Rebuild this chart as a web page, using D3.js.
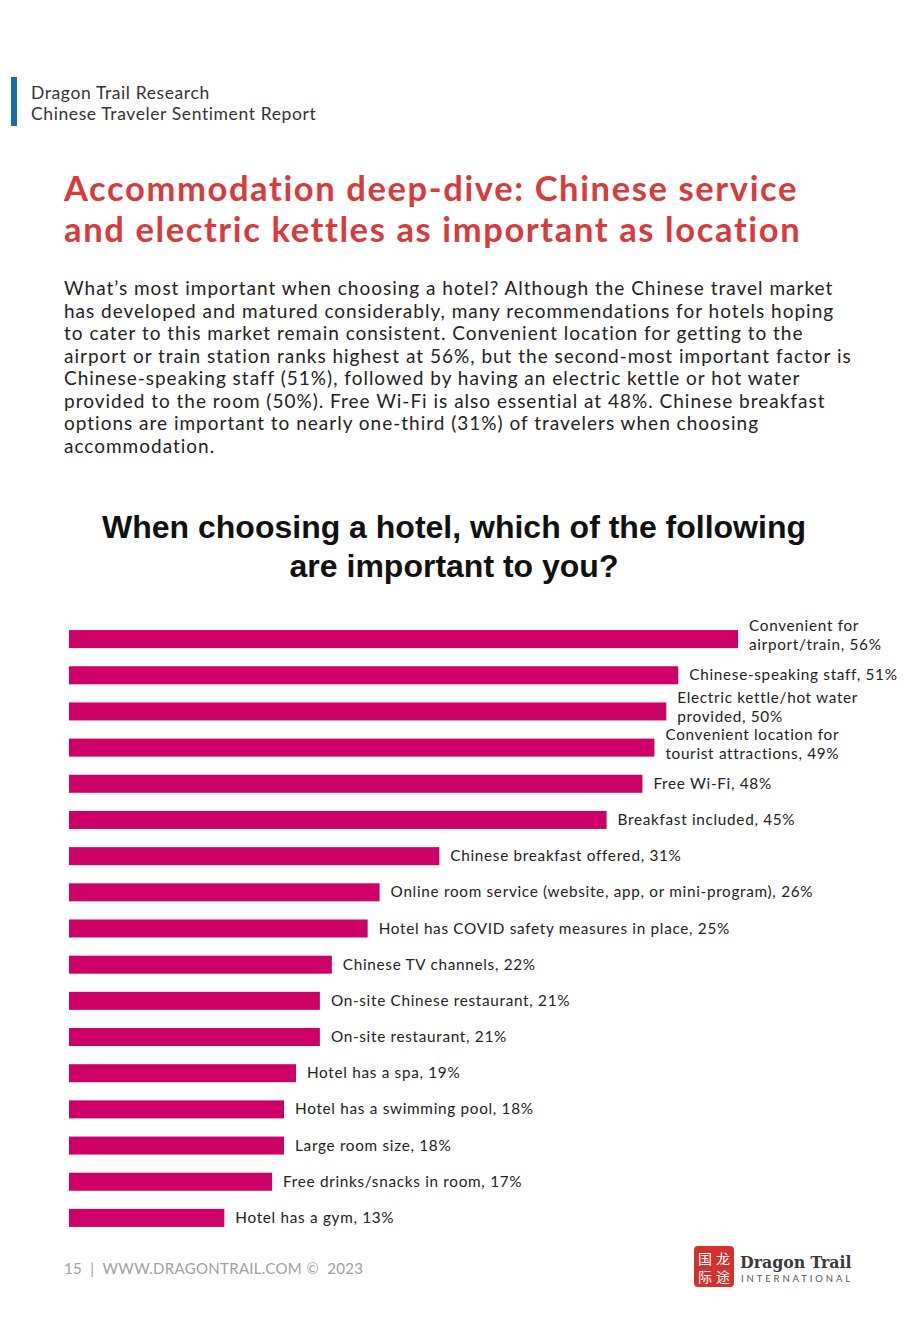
<!DOCTYPE html>
<html><head><meta charset="utf-8">
<script src="https://cdn.jsdelivr.net/npm/d3@7"></script>
<style>
html,body{margin:0;padding:0;background:#fff;}
svg{display:block;}
</style></head>
<body>
<svg id="c" width="920" height="1329"></svg>
<script>
const categories = ["Convenient for\nairport/train", "Chinese-speaking staff", "Electric kettle/hot water\nprovided", "Convenient location for\ntourist attractions", "Free Wi-Fi", "Breakfast included", "Chinese breakfast offered", "Online room service (website, app, or mini-program)", "Hotel has COVID safety measures in place", "Chinese TV channels", "On-site Chinese restaurant", "On-site restaurant", "Hotel has a spa", "Hotel has a swimming pool", "Large room size", "Free drinks/snacks in room", "Hotel has a gym"];
const values = [56, 51, 50, 49, 48, 45, 31, 26, 25, 22, 21, 21, 19, 18, 18, 17, 13];
const headerLines = ["Dragon Trail Research", "Chinese Traveler Sentiment Report"];
const titleLines = ["Accommodation deep-dive: Chinese service", "and electric kettles as important as location"];
const paragraphLines = [
 "What\u2019s most important when choosing a hotel? Although the Chinese travel market",
 "has developed and matured considerably, many recommendations for hotels hoping",
 "to cater to this market remain consistent. Convenient location for getting to the",
 "airport or train station ranks highest at 56%, but the second-most important factor is",
 "Chinese-speaking staff (51%), followed by having an electric kettle or hot water",
 "provided to the room (50%). Free Wi-Fi is also essential at 48%. Chinese breakfast",
 "options are important to nearly one-third (31%) of travelers when choosing",
 "accommodation."];
const chartTitleLines = ["When choosing a hotel, which of the following", "are important to you?"];
const footerText = "15  |  WWW.DRAGONTRAIL.COM \u00A9  2023";

const FONT = "'Century Gothic','Lato','Open Sans',sans-serif";
const svg = d3.select("#c");

function fitSpacing(sel, refNode, target) {
  const w = refNode.getComputedTextLength();
  const n = refNode.textContent.length;
  const ls = Math.max(0, (target - w) / Math.max(1, n - 1));
  sel.attr("letter-spacing", ls.toFixed(3));
}

// header
svg.append("rect").attr("x", 11).attr("y", 77).attr("width", 6).attr("height", 49).attr("fill", "#1b6ea3");
const hdr = svg.selectAll("text.hdr").data(headerLines).join("text").attr("class","hdr")
  .attr("x", 31).attr("y", (d,i)=>99 + i*20.5)
  .attr("font-family", FONT).attr("font-size", 17.5).attr("fill", "#333").text(d=>d);
fitSpacing(hdr, hdr.nodes()[1], 285);

// title
const ttl = svg.selectAll("text.ttl").data(titleLines).join("text").attr("class","ttl")
  .attr("x", 64).attr("y", (d,i)=>201 + i*41)
  .attr("font-family", FONT).attr("font-weight", "bold").attr("font-size", 34.5)
  .attr("fill", "#d93a3b").text(d=>d);
fitSpacing(ttl, ttl.nodes()[0], 733);

// paragraph
const par = svg.selectAll("text.par").data(paragraphLines).join("text").attr("class","par")
  .attr("x", 64).attr("y", (d,i)=>295 + i*22.5)
  .attr("font-family", FONT).attr("font-size", 19).attr("fill", "#222").text(d=>d);
fitSpacing(par, par.nodes()[3], 787);

// chart title
svg.selectAll("text.ct").data(chartTitleLines).join("text").attr("class","ct")
  .attr("x", 454).attr("y", (d,i)=>538 + i*39).attr("text-anchor","middle")
  .attr("font-family", "'Liberation Sans',Arial,sans-serif").attr("font-weight", "bold").attr("font-size", 32)
  .attr("fill", "#111").text(d=>d);

// bars
const x = d3.scaleLinear().domain([0, 56]).range([69, 738]);
const y = d3.scaleBand().domain(d3.range(categories.length)).range([621, 1236]).paddingInner(0.5).paddingOuter(0.25);
const g = svg.append("g");
g.selectAll("rect.bar").data(values).join("rect").attr("class","bar")
  .attr("x", x(0)).attr("y", (d,i)=>y(i) + y.bandwidth()/2 - 9)
  .attr("width", d=>x(d)-x(0)).attr("height", 18).attr("fill", "#cc0066");

const labels = g.selectAll("text.lbl").data(values).join("text").attr("class","lbl")
  .attr("font-family", FONT).attr("font-size", 15.3).attr("letter-spacing", 0.7).attr("fill", "#222");
labels.each(function(d,i){
  const lines = (categories[i] + ", " + d + "%").split("\n");
  const cy = y(i) + y.bandwidth()/2;
  const t = d3.select(this);
  lines.forEach((ln, j)=>{
    const off = lines.length === 1 ? 5 : (j === 0 ? -8 : 11);
    t.append("tspan").attr("x", x(d) + 11).attr("y", cy + off).text(ln);
  });
});

// footer
const ft = svg.append("text").attr("x", 64).attr("y", 1274).attr("font-family", FONT).attr("font-size", 15)
  .attr("fill", "#a0a0a0").attr("xml:space","preserve").style("white-space","pre").text(footerText);
fitSpacing(ft, ft.node(), 299);

// logo
const lg = svg.append("g").attr("transform", "translate(694,1246)");
lg.append("rect").attr("width", 40).attr("height", 41).attr("rx", 4).attr("fill", "#d2322d");
const chars = [["国",11,18],["龙",29,18],["际",11,36],["途",29,36]];
lg.selectAll("text.ch").data(chars).join("text").attr("class","ch")
  .attr("x", d=>d[1]).attr("y", d=>d[2]).attr("text-anchor","middle")
  .attr("font-family", "'Noto Sans CJK SC',sans-serif").attr("font-size", 14).attr("fill", "#fff").text(d=>d[0]);
svg.append("text").attr("x", 740).attr("y", 1268).attr("font-family", "'DejaVu Serif Condensed','DejaVu Serif',serif").attr("font-weight","bold")
  .attr("font-size", 17.5).attr("fill", "#3a3a3a").text("Dragon Trail");
svg.append("text").attr("x", 741).attr("y", 1282).attr("font-family", FONT)
  .attr("font-size", 9.5).attr("letter-spacing", 2.9).attr("fill", "#555").text("INTERNATIONAL");
</script>
</body></html>
